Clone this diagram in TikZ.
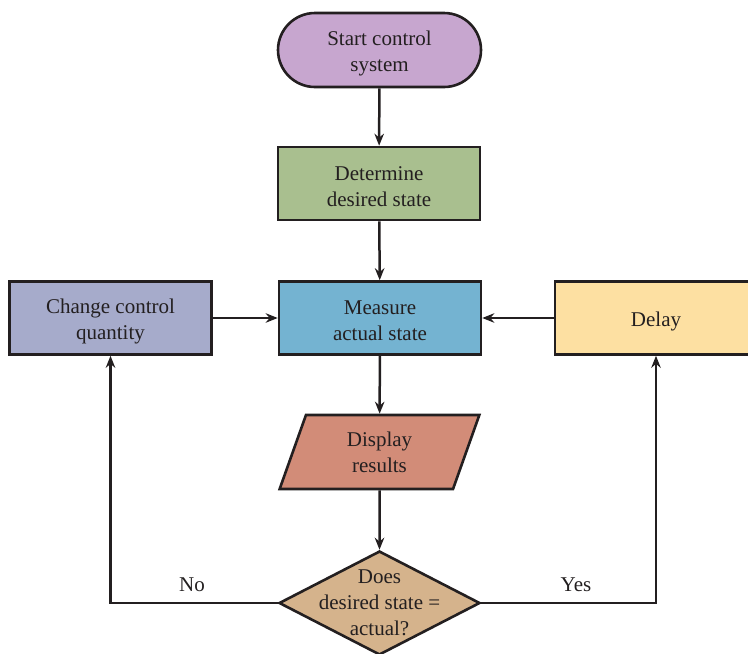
\documentclass[tikz,border=0pt]{standalone}
\usepackage{fontspec}
\setmainfont{Liberation Serif}
\usetikzlibrary{shapes.geometric,arrows.meta}
\definecolor{cpurple}{HTML}{C7A6CF}
\definecolor{cgreen}{HTML}{A9BF8F}
\definecolor{cblue}{HTML}{74B3D1}
\definecolor{clav}{HTML}{A6ABCB}
\definecolor{cyellow}{HTML}{FDE0A2}
\definecolor{csalmon}{HTML}{D28C78}
\definecolor{ctan}{HTML}{D5B38C}
\definecolor{cink}{HTML}{231F20}
\tikzset{
  base/.style={draw=cink, line width=2.6pt, text=cink, align=center, font=\fontsize{21}{26}\selectfont, inner sep=0pt},
  boxnode/.style={base, rectangle, minimum width=202pt, minimum height=73pt},
  termnode/.style={base, rectangle, rounded corners=37pt, minimum width=203pt, minimum height=74pt},
  ionode/.style={base, trapezium, trapezium left angle=74, trapezium right angle=106, trapezium stretches=true, minimum width=201pt, minimum height=74pt},
  decnode/.style={base, diamond, minimum width=201pt, minimum height=104pt},
  txt/.style={text=cink, align=center, font=\fontsize{21}{26}\selectfont, inner sep=0pt},
  boxtxt/.style={txt, yshift=-3pt},
  conn/.style={draw=cink, line width=2.5pt, -{Stealth[length=12pt,width=9.5pt]}}
}
\begin{document}
\begin{tikzpicture}[x=1pt,y=-1pt]
\useasboundingbox (0,0) rectangle (748,654);
\node[termnode, fill=cpurple] (start) at (379.5,50) {};
\node[boxtxt] (starttext) at (start) {Start control\\system};
\node[boxnode, fill=cgreen] (det) at (379,183.5) {};
\node[boxtxt] (dettext) at (det) {Determine\\desired state};
\node[boxnode, fill=cblue] (meas) at (380,318) {};
\node[boxtxt] (meastext) at (meas) {Measure\\actual state};
\node[boxnode, fill=clav] (chg) at (110.5,318) {};
\node[boxtxt] (chgtext) at (chg) {Change control\\quantity};
\node[boxnode, fill=cyellow] (delay) at (656,318) {};
\node[boxtxt] (delaytext) at (delay) {Delay};
\node[ionode, fill=csalmon] (disp) at (379.5,452) {Display\\results};
\node[decnode, fill=ctan] (dec) at (379.5,603) {};
\node[txt] (dectext) at (379.5,603) {Does\\desired state =\\actual?};
\coordinate (nocorner) at (110.5,603);
\coordinate (yescorner) at (656,603);
\draw[conn] (start) -- (det);
\draw[conn] (det) -- (meas);
\draw[conn] (meas) -- (disp);
\draw[conn] (disp) -- (dec);
\draw[conn] (chg) -- (meas);
\draw[conn] (delay) -- (meas);
\draw[conn] (dec.west) -- (nocorner) -- (chg.south);
\draw[conn] (dec.east) -- (yescorner) -- (delay.south);
\node[txt] (nolabel) at (192,585) {No};
\node[txt] (yeslabel) at (576,585) {Yes};
\end{tikzpicture}
\end{document}
